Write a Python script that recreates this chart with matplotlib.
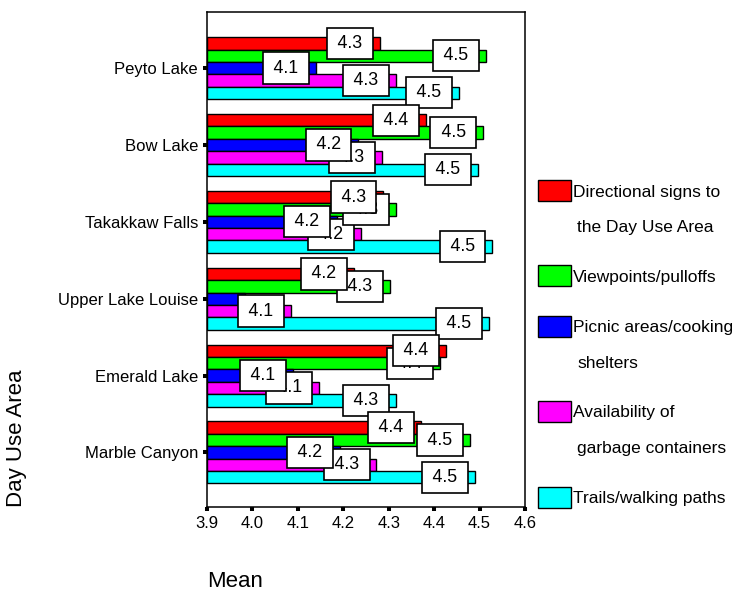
import matplotlib.pyplot as plt
import numpy as np
from matplotlib.patches import Rectangle

plt.rcParams['font.family'] = ['Liberation Sans', 'DejaVu Sans']

# Mean ratings per Day Use Area
areas = ['Peyto Lake', 'Bow Lake', 'Takakkaw Falls', 'Upper Lake Louise',
         'Emerald Lake', 'Marble Canyon']
directional = [4.281, 4.382, 4.288, 4.223, 4.426, 4.370]
viewpoints = [4.514, 4.508, 4.316, 4.302, 4.413, 4.478]
picnic = [4.139, 4.233, 4.186, 3.984, 4.089, 4.193]
garbage = [4.316, 4.285, 4.238, 4.085, 4.147, 4.273]
trails = [4.454, 4.496, 4.528, 4.521, 4.316, 4.489]

series_names = ['Directional signs to\nthe Day Use Area', 'Viewpoints/pulloffs',
                'Picnic areas/cooking\nshelters', 'Availability of\ngarbage containers',
                'Trails/walking paths']
xticks = [3.9, 4.0, 4.1, 4.2, 4.3, 4.4, 4.5, 4.6]

series = [directional, viewpoints, picnic, garbage, trails]
colors = ['#ff0000', '#00ff00', '#0000ff', '#ff00ff', '#00ffff']

W, H = 738, 590
fig = plt.figure(figsize=(W / 100, H / 100), dpi=100)
ax = fig.add_axes([207 / W, 1 - 507 / H, 318 / W, 495 / H])

bar_h = 0.161
ypos = np.arange(len(areas))
x0 = xticks[0]

for i, (vals, c) in enumerate(zip(series, colors)):
    pos = ypos + (i - 2) * bar_h
    vals = np.array(vals)
    ax.barh(pos, vals - x0, left=x0, height=bar_h, color=c,
            edgecolor='black', linewidth=1.0, zorder=2)
    for v, p in zip(vals, pos):
        if v - x0 < 0.12:
            continue  # label would not fit inside the plot
        ax.annotate(f'\u2009{v:.1f}\u2009', xy=(v, p), xytext=(-14, 0),
                    textcoords='offset pixels', ha='right', va='center',
                    fontsize=12.8,
                    bbox=dict(boxstyle='square,pad=0.4', fc='white', ec='black', lw=1.2),
                    zorder=20 - i)

ax.set_xlim(xticks[0], xticks[-1])
ax.set_ylim(5.71, -0.73)
ax.set_xticks(xticks, [f'{t:.1f}' for t in xticks])
ax.set_yticks(ypos, areas)
ax.tick_params(axis='both', direction='out', length=2.9, width=2.9,
               labelsize=12, pad=3.6, color='black')
for s in ax.spines.values():
    s.set_linewidth(1.1)

fig.text(17 / W, 1 - 507 / H, 'Day Use Area', rotation=90, ha='center',
         va='bottom', fontsize=16)
fig.text(207 / W, 1 - 587 / H, 'Mean', ha='left', va='baseline', fontsize=16)

# legend drawn by hand, SPSS style
y = 190.5
for name, c in zip(series_names, colors):
    fig.add_artist(Rectangle((538 / W, 1 - (y + 10.5) / H), 33 / W, 21 / H,
                             transform=fig.transFigure, fc=c, ec='black', lw=1.0))
    for k, line in enumerate(name.split('\n')):
        fig.text((573 if k == 0 else 577) / W, 1 - (y + 1.5 + k * 35.5) / H, line,
                 ha='left', va='center', fontsize=12.5)
    y += 50 + 35.5 * (len(name.split('\n')) - 1)

fig.savefig('out.png', dpi=100)
